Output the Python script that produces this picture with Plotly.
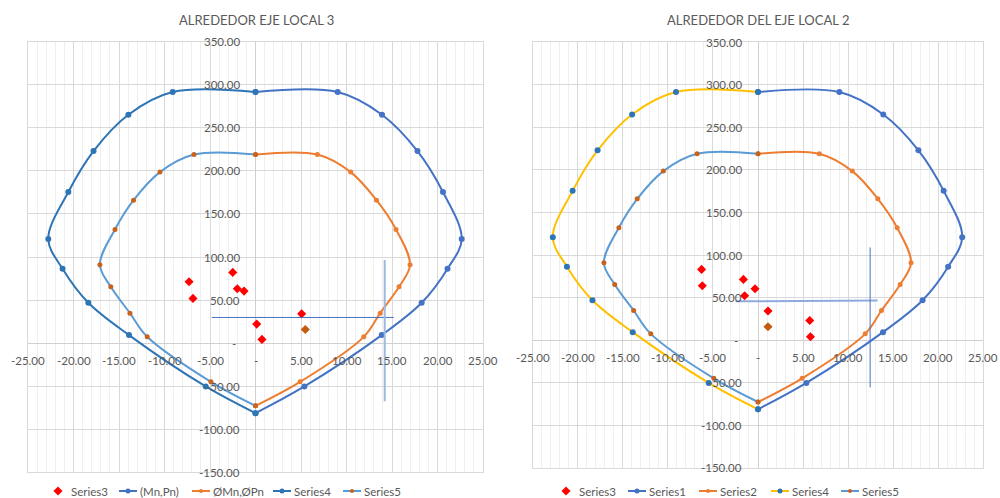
import plotly.graph_objects as go

# ---- Interaction diagram data (moment, axial load) ----
# outer curve, nominal strength (Mn, Pn) - positive moment half
mn_pos = [0, 9.03, 13.9, 17.8, 20.6, 22.66, 21.1, 18.26, 13.87, 5.37, 0]
pn_pos = [291.5, 291.5, 265.2, 223.0, 175.4, 121.0, 86.3, 46.8, 9.3, -50.3, -81.3]
# outer curve - negative moment half
mn_neg = [0, -9.1, -13.97, -17.8, -20.57, -22.77, -21.2, -18.37, -13.9, -5.47, 0]
pn_neg = [291.5, 291.5, 265.2, 223.0, 175.4, 121.0, 86.3, 46.8, 9.3, -50.3, -81.3]

# inner curve, design strength (ØMn, ØPn) - positive half
phimn_pos = [0, 6.8, 10.46, 13.3, 15.44, 16.98, 15.77, 13.7, 11.9, 4.9, 0]
phipn_pos = [219.0, 219.0, 198.6, 166.0, 132.0, 91.0, 65.4, 34.8, 7.3, -45.0, -72.8]
# inner curve - negative half
phimn_neg = [0, -6.76, -10.5, -13.4, -15.44, -17.1, -15.9, -13.8, -11.9, -4.9, 0]
phipn_neg = [219.0, 219.0, 198.6, 166.0, 132.0, 91.0, 65.4, 34.8, 7.3, -45.0, -72.8]

# demand points (Mu, Pu) about local axis 3
mu3 = [-7.3, -6.87, -2.5, -2.0, -1.26, 0.13, 0.71, 5.07, 5.47]
pu3 = [71.2, 51.9, 82.1, 63.1, 60.4, 22.1, 4.3, 34.0, 15.9]
# demand points (Mu, Pu) about local axis 2
mu2 = [-6.26, -6.18, -1.62, -1.48, -0.33, 1.11, 5.74, 5.82, 1.11]
pu2 = [83.1, 63.8, 71.3, 52.1, 60.3, 34.1, 23.1, 3.9, 15.6]
pt_colors = ["#FF0000"] * 8 + ["#C55A11"]

# guide lines
h3_x, h3_y = [-4.8, 15.2], [29.8, 29.8]
v3_x, v3_y = [14.2, 14.2], [96.4, -67.4]
h2_x, h2_y = [-2.48, 13.27], [45.5, 46.6]
v2_x, v2_y = [12.44, 12.44], [108.9, -55.6]

x_ticks = [-25, -20, -15, -10, -5, 0, 5, 10, 15, 20, 25]
y_ticks = [-150, -100, -50, 0, 50, 100, 150, 200, 250, 300, 350]

titles = ["ALREDEDOR EJE LOCAL 3", "ALREDEDOR DEL EJE LOCAL 2"]
names_left = ["Series3", "(Mn,Pn)", "ØMn,ØPn", "Series4", "Series5"]
names_right = ["Series3", "Series1", "Series2", "Series4", "Series5"]

BLUE = "#4472C4"
ORANGE = "#ED7D31"
DARKBLUE = "#2E75B6"
LIGHTBLUE = "#5B9BD5"
YELLOW = "#FFC000"
MARK5 = "#C9621C"
TXT = "#595959"
FONT = "Lato, Open Sans, sans-serif"

W, H = 1000, 498


def fmt(v):
    return "-" if v == 0 else f"{v:.2f}"


fig = go.Figure()


def add_panel(xr, yr, names, s4_line, mu, pu, hx, hy, hcol, hw, vx, vy, vcol, vw):
    common = dict(xaxis=xr, yaxis=yr, showlegend=False)
    fig.add_trace(go.Scatter(x=mu, y=pu, mode="markers", name=names[0],
                             marker=dict(symbol="diamond", size=7, color=pt_colors), **common))
    fig.add_trace(go.Scatter(x=mn_pos, y=pn_pos, mode="lines+markers", name=names[1],
                             line=dict(color=BLUE, width=2, shape="spline"),
                             marker=dict(color=BLUE, size=6), **common))
    fig.add_trace(go.Scatter(x=phimn_pos, y=phipn_pos, mode="lines+markers", name=names[2],
                             line=dict(color=ORANGE, width=2, shape="spline"),
                             marker=dict(color=ORANGE, size=5), **common))
    fig.add_trace(go.Scatter(x=mn_neg, y=pn_neg, mode="lines+markers", name=names[3],
                             line=dict(color=s4_line, width=2, shape="spline"),
                             marker=dict(color=DARKBLUE, size=6), **common))
    fig.add_trace(go.Scatter(x=phimn_neg, y=phipn_neg, mode="lines+markers", name=names[4],
                             line=dict(color=LIGHTBLUE, width=2, shape="spline"),
                             marker=dict(color=MARK5, size=5), **common))
    fig.add_trace(go.Scatter(x=hx, y=hy, mode="lines", hoverinfo="skip",
                             line=dict(color=hcol, width=hw), **common))
    fig.add_trace(go.Scatter(x=vx, y=vy, mode="lines", hoverinfo="skip",
                             line=dict(color=vcol, width=vw), **common))
    # tick labels sitting on the axes that cross at the origin
    for v in x_ticks:
        fig.add_annotation(x=v, y=0, xref=xr, yref=yr, text=fmt(v), showarrow=False,
                           yshift=-17, font=dict(size=11.5, color=TXT, family=FONT))
    for v in y_ticks:
        fig.add_annotation(x=0, y=v, xref=xr, yref=yr, text=fmt(v), showarrow=False,
                           xanchor="right", xshift=-14 if v != 0 else -18,
                           font=dict(size=11.5, color=TXT, family=FONT))


add_panel("x", "y", names_left, DARKBLUE, mu3, pu3,
          h3_x, h3_y, BLUE, 1, v3_x, v3_y, "#9DB8E3", 2)
add_panel("x2", "y2", names_right, YELLOW, mu2, pu2,
          h2_x, h2_y, "#8FAADC", 2, v2_x, v2_y, BLUE, 1)


# legend rows drawn on a full-page pixel overlay (x: 0..1000, y: 0..498 top-down)
def add_legend(names, s4_line, sym_x, text_x, y_px):
    styles = [
        (None, "#FF0000", "diamond", 7),
        (BLUE, BLUE, "circle", 5),
        (ORANGE, ORANGE, "circle", 4),
        (s4_line, DARKBLUE, "circle", 5),
        (LIGHTBLUE, MARK5, "circle", 4),
    ]
    for name, (lc, mc, sym, sz), sx, tx in zip(names, styles, sym_x, text_x):
        if lc is not None:
            fig.add_trace(go.Scatter(x=[sx - 9, sx + 9], y=[y_px, y_px], mode="lines",
                                     line=dict(color=lc, width=2), xaxis="x3", yaxis="y3",
                                     showlegend=False, hoverinfo="skip"))
        fig.add_trace(go.Scatter(x=[sx], y=[y_px], mode="markers",
                                 marker=dict(symbol=sym, size=sz, color=mc),
                                 xaxis="x3", yaxis="y3", showlegend=False, hoverinfo="skip"))
        fig.add_annotation(x=tx, y=y_px, xref="x3", yref="y3", text=name, showarrow=False,
                           xanchor="left", yanchor="middle",
                           font=dict(size=11.5, color=TXT, family=FONT))


add_legend(names_left, DARKBLUE, [58, 128, 201, 282, 352], [69, 138, 211, 292, 362], 491)
add_legend(names_right, YELLOW, [566, 637, 708, 780, 850], [577, 647, 718, 790, 860], 491)

for text, xp in zip(titles, [256, 758]):
    fig.add_annotation(text=text, x=xp, y=20, xref="x3", yref="y3",
                       showarrow=False, xanchor="center", yanchor="middle",
                       font=dict(size=13, color=TXT, family=FONT))

axis_x = dict(range=[-25, 25], dtick=5, showgrid=True, gridcolor="#D9D9D9", gridwidth=1,
              minor=dict(dtick=1, showgrid=True, gridcolor="#EFEFEF", gridwidth=1),
              zeroline=True, zerolinecolor="#D0D0D0", zerolinewidth=1,
              showline=True, mirror=True, linecolor="#D9D9D9", linewidth=1,
              showticklabels=False, ticks="", fixedrange=True)
axis_y = dict(range=[-150, 350], dtick=50, showgrid=True, gridcolor="#D9D9D9", gridwidth=1,
              zeroline=True, zerolinecolor="#D0D0D0", zerolinewidth=1,
              showline=True, mirror=True, linecolor="#D9D9D9", linewidth=1,
              showticklabels=False, ticks="", fixedrange=True)
overlay = dict(visible=False, showgrid=False, zeroline=False, fixedrange=True)

fig.update_layout(
    width=W, height=H,
    margin=dict(l=0, r=0, t=0, b=0),
    paper_bgcolor="white", plot_bgcolor="rgba(0,0,0,0)",
    font=dict(family=FONT, color=TXT, size=12),
    showlegend=False,
    xaxis=dict(axis_x, domain=[0.028, 0.483], anchor="y"),
    yaxis=dict(axis_y, domain=[1 - 472.3 / H, 1 - 41.7 / H], anchor="x"),
    xaxis2=dict(axis_x, domain=[0.5327, 0.9833], anchor="y2"),
    yaxis2=dict(axis_y, domain=[1 - 467.7 / H, 1 - 42.3 / H], anchor="x2"),
    xaxis3=dict(overlay, domain=[0, 1], range=[0, W], anchor="y3"),
    yaxis3=dict(overlay, domain=[0, 1], range=[H, 0], anchor="x3"),
)

fig.write_html("out.html")
